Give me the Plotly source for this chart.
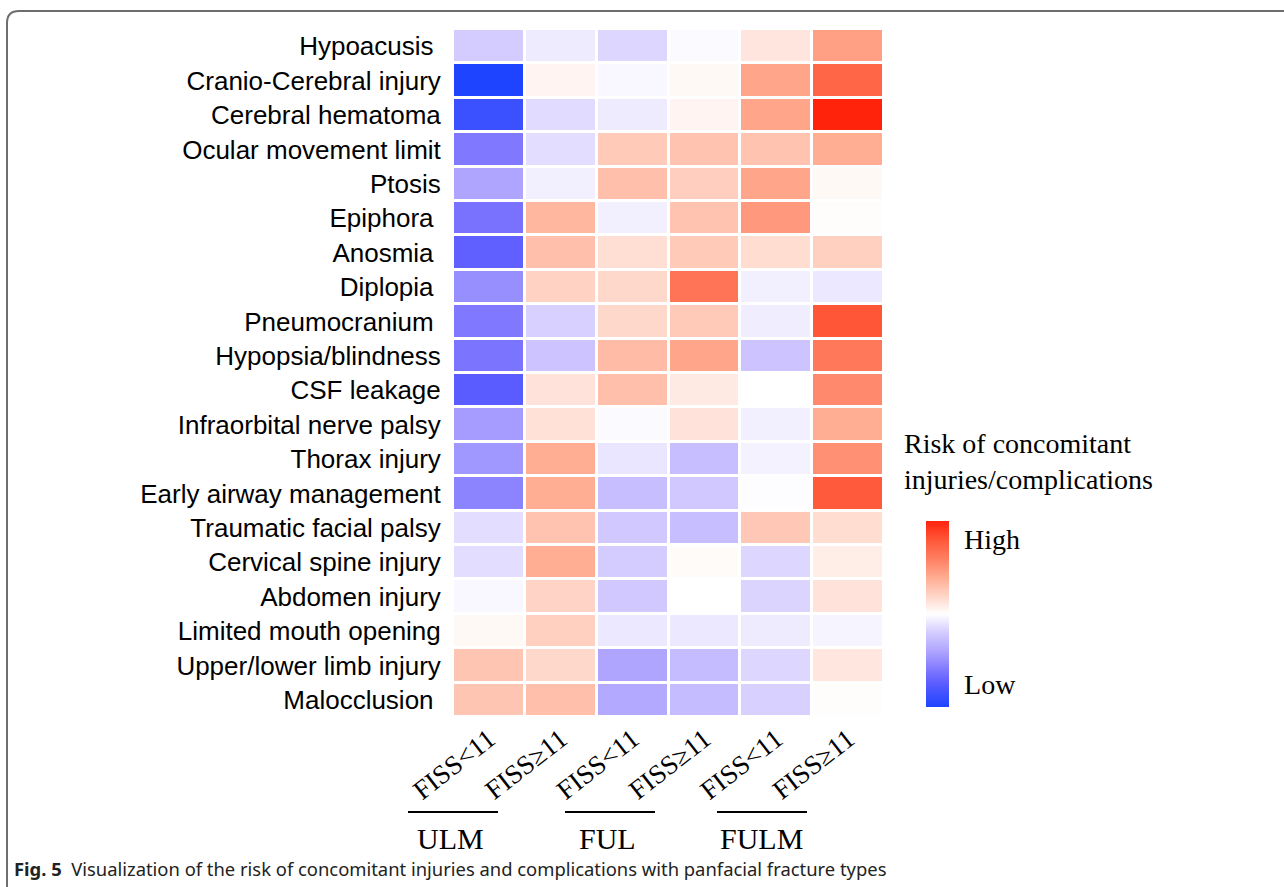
import plotly.graph_objects as go

W, H = 1284, 887

rows = ["Hypoacusis\u00a0", "Cranio-Cerebral injury", "Cerebral hematoma", "Ocular movement limit",
        "Ptosis", "Epiphora\u00a0", "Anosmia\u00a0", "Diplopia\u00a0", "Pneumocranium\u00a0",
        "Hypopsia/blindness", "CSF leakage", "Infraorbital nerve palsy", "Thorax injury",
        "Early airway management", "Traumatic facial palsy", "Cervical spine injury",
        "Abdomen injury", "Limited mouth opening", "Upper/lower limb injury", "Malocclusion\u00a0"]

cols = ["ULM FISS<11", "ULM FISS≥11", "FUL FISS<11", "FUL FISS≥11", "FULM FISS<11", "FULM FISS≥11"]
col_labels = ["FISS<11", "FISS≥11", "FISS<11", "FISS≥11", "FISS<11", "FISS≥11"]

ulm_lt = [-0.20, -1.00, -0.88, -0.60, -0.40, -0.63, -0.73, -0.50, -0.60, -0.62,
          -0.75, -0.44, -0.46, -0.55, -0.13, -0.13, -0.03, 0.03, 0.27, 0.27]
ulm_ge = [-0.08, 0.05, -0.14, -0.13, -0.06, 0.34, 0.30, 0.21, -0.18, -0.24,
          0.13, 0.14, 0.38, 0.38, 0.28, 0.38, 0.20, 0.22, 0.18, 0.30]
ful_lt = [-0.16, -0.03, -0.08, 0.25, 0.30, -0.06, 0.15, 0.18, 0.18, 0.32,
          0.30, -0.02, -0.10, -0.27, -0.22, -0.20, -0.22, -0.09, -0.40, -0.38]
ful_ge = [-0.02, 0.03, 0.05, 0.28, 0.23, 0.28, 0.25, 0.65, 0.25, 0.42,
          0.10, 0.13, -0.27, -0.22, -0.27, 0.02, 0.00, -0.09, -0.28, -0.28]
fulm_lt = [0.12, 0.42, 0.42, 0.28, 0.42, 0.48, 0.16, -0.06, -0.07, -0.24,
           0.00, -0.06, -0.05, -0.01, 0.26, -0.16, -0.17, -0.08, -0.16, -0.18]
fulm_ge = [0.45, 0.72, 1.00, 0.38, 0.03, 0.01, 0.22, -0.09, 0.80, 0.63,
           0.55, 0.38, 0.52, 0.78, 0.16, 0.08, 0.13, -0.04, 0.11, 0.01]

series = [ulm_lt, ulm_ge, ful_lt, ful_ge, fulm_lt, fulm_ge]
z = [[s[i] for s in series] for i in range(len(rows))]

groups = ["ULM", "FUL", "FULM"]

colorscale = [
    [0.0, "rgb(30,68,255)"],
    [0.125, "rgb(90,92,255)"],
    [0.2, "rgb(128,120,255)"],
    [0.3, "rgb(175,165,255)"],
    [0.4, "rgb(212,204,255)"],
    [0.5, "rgb(255,255,255)"],
    [0.6, "rgb(255,212,198)"],
    [0.7, "rgb(255,170,143)"],
    [0.8, "rgb(255,126,96)"],
    [0.9, "rgb(255,86,56)"],
    [1.0, "rgb(255,35,12)"],
]

def px(x):
    return x / W

def py(y):
    return 1 - y / H

fig = go.Figure(go.Heatmap(
    z=z, x=cols, y=rows, zmin=-1, zmax=1,
    colorscale=colorscale, xgap=3, ygap=3,
    hoverinfo="skip",
    colorbar=dict(
        x=px(926), xanchor="left", y=py(614), yanchor="middle",
        len=186 / H, lenmode="fraction", thickness=23, thicknessmode="pixels",
        outlinewidth=0, xpad=0, ypad=0,
        tickvals=[0.8, -0.76], ticktext=["High", "Low"],
        ticks="outside", ticklen=10, tickcolor="rgba(0,0,0,0)",
        tickfont=dict(family="Liberation Serif", size=28, color="#000"),
    ),
))

fig.update_xaxes(
    domain=[px(453), px(884)], tickmode="array", tickvals=cols, ticktext=col_labels,
    tickangle=-38, tickfont=dict(family="Liberation Serif", size=27, color="#000"),
    showgrid=False, zeroline=False, showline=False, ticks="", automargin=False,
)
fig.update_yaxes(
    domain=[py(717), py(29)], autorange="reversed",
    tickfont=dict(family="Liberation Sans", size=26, color="#000"),
    showgrid=False, zeroline=False, showline=False, automargin=False,
    ticks="outside", ticklen=6, tickcolor="rgba(0,0,0,0)",
)

shapes = []
# group underlines
for x0, x1 in [(408, 498), (565, 655), (717, 807)]:
    shapes.append(dict(type="line", xref="paper", yref="paper", x0=px(x0), x1=px(x1),
                       y0=py(812), y1=py(812), line=dict(color="#000", width=2)))
# rounded frame
frame_path = (f"M {px(7)},0 L {px(7)},{py(23)} Q {px(7)},{py(11)} {px(19)},{py(11)} L 1,{py(11)}")
shapes.append(dict(type="path", xref="paper", yref="paper", path=frame_path,
                   line=dict(color="#6e6e6e", width=2)))

annotations = []
for g, cx in zip(groups, [450, 607, 761]):
    annotations.append(dict(text=g, x=px(cx), y=py(838), xref="paper", yref="paper",
                            xanchor="center", yanchor="middle", showarrow=False,
                            font=dict(family="Liberation Serif", size=30, color="#000")))
annotations.append(dict(text="Risk of concomitant<br>injuries/complications", x=px(902), y=py(461),
                        xref="paper", yref="paper", xanchor="left", yanchor="middle", align="left",
                        showarrow=False,
                        font=dict(family="Liberation Serif", size=28, color="#000")))
annotations.append(dict(text="<b>Fig. 5</b>  Visualization of the risk of concomitant injuries and complications with panfacial fracture types",
                        x=px(12), y=py(868), xref="paper", yref="paper", xanchor="left", yanchor="middle",
                        showarrow=False, font=dict(family="Noto Sans", size=18.4, color="#222")))

fig.update_layout(
    width=W, height=H, margin=dict(l=0, r=0, t=0, b=0, autoexpand=False),
    paper_bgcolor="white", plot_bgcolor="white",
    shapes=shapes, annotations=annotations, showlegend=False,
)

fig.write_html("out.html", config={"displayModeBar": False, "staticPlot": True},
               post_script="document.body.style.margin='0';document.body.style.overflow='hidden';")
